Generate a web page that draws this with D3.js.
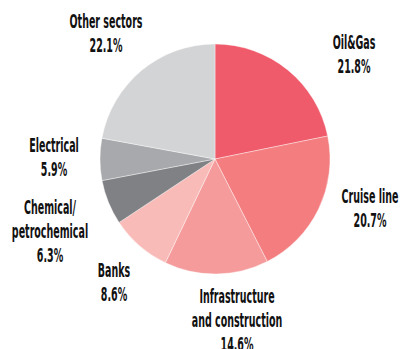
<!DOCTYPE html>
<html>
<head>
<meta charset="utf-8">
<script src="https://cdn.jsdelivr.net/npm/d3@7"></script>
<style>
  html, body { margin: 0; padding: 0; background: #fff; }
  svg { display: block; }
  .lbl { font-family: "Liberation Sans Narrow", "DejaVu Sans Condensed", sans-serif; font-weight: bold; font-size: 19px; fill: #111; }
</style>
</head>
<body>
<svg id="chart" width="401" height="349"></svg>
<script>
// Sector shares, clockwise from 12 o'clock
const sectors = ["Oil&Gas", "Cruise line", "Infrastructure and construction", "Banks", "Chemical/petrochemical", "Electrical", "Other sectors"];
const shares = [21.8, 20.7, 14.6, 8.6, 6.3, 5.9, 22.1];
const colors = ["#f05b6b", "#f37d7f", "#f59b9b", "#f8bbb7", "#808184", "#a8a9ac", "#d3d4d6"];
// Label text lines for each sector (last line is the share)
const labelLines = [
  ["Oil&Gas"],
  ["Cruise line"],
  ["Infrastructure", "and construction"],
  ["Banks"],
  ["Chemical/", "petrochemical"],
  ["Electrical"],
  ["Other sectors"]
];
// Label anchor points (centre x, first-line baseline y)
const labelX = [354, 370, 237, 114, 50, 54, 106];
const labelY = [49, 203, 303, 277, 214, 152, 28];

const svg = d3.select("#chart");
const cx = 215, cy = 159, r = 115;
const lineH = 24;
const headingWidth = 73; // target width of the "Other sectors" line

const pie = d3.pie().sort(null).value(d => d)(shares);
const arc = d3.arc().innerRadius(0).outerRadius(r);

const g = svg.append("g").attr("transform", `translate(${cx},${cy})`);
g.selectAll("path")
  .data(pie)
  .join("path")
  .attr("d", arc)
  .attr("fill", (d, i) => colors[i])
  .attr("stroke", "#fff")
  .attr("stroke-width", 0.4);

// Work out a horizontal squeeze that gives a condensed look with the installed face
const probe = svg.append("text").attr("class", "lbl").text("Other sectors");
const squeeze = headingWidth / probe.node().getComputedTextLength();
probe.remove();

const labels = svg.selectAll("g.label")
  .data(sectors)
  .join("g")
  .attr("class", "label")
  .attr("transform", (d, i) => `translate(${labelX[i]},${labelY[i]}) scale(${squeeze},1)`);

labels.each(function (d, i) {
  const lines = labelLines[i].concat([d3.format(".1f")(shares[i]) + "%"]);
  d3.select(this).selectAll("text")
    .data(lines)
    .join("text")
    .attr("class", "lbl")
    .attr("text-anchor", "middle")
    .attr("y", (t, j) => j * lineH)
    .text(t => t);
});
</script>
</body>
</html>
